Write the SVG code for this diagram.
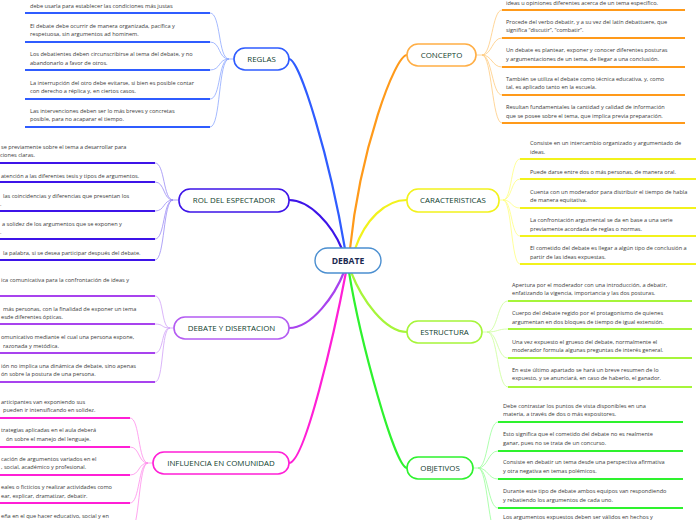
<svg xmlns="http://www.w3.org/2000/svg" width="696" height="520" viewBox="0 0 696 520">
<style>
.t{font-family:"Open Sans","Noto Sans",sans-serif;font-size:5.6px;fill:#3a3a3a}
.n{font-family:"Open Sans","Noto Sans",sans-serif;font-size:7.9px;fill:#0f3d2e;text-anchor:middle}
.box{fill:#fff;stroke-width:1.6}
.main{fill:none;stroke-width:2.2;stroke-linecap:round}
.sub{fill:none;stroke-width:0.8}
.bar{stroke-width:1.8}
</style>
<rect width="696" height="520" fill="#fff"/>
<g id="connectors">
  <path class="main" stroke="#2f5cff" d="M289,59 C300,59 330,160 345,249"/>
  <path class="main" stroke="#3d14e8" d="M289,200 C310,200 332,225 342,249"/>
  <path class="main" stroke="#ff9a1a" d="M407,55 C395,55 360,150 350,249"/>
  <path class="main" stroke="#f2f21c" d="M407,200 C385,200 365,220 355,249"/>
  <path class="main" stroke="#a843ee" d="M289,328 C312,328 335,295 344,272"/>
  <path class="main" stroke="#ff1fd6" d="M289,463 C305,463 335,330 346,272"/>
  <path class="main" stroke="#a6f53a" d="M407,332 C385,332 362,300 351,272"/>
  <path class="main" stroke="#2ef22e" d="M407,468 C395,468 360,340 349,272"/>
  <g stroke="#8ea8ff" class="sub">
    <path d="M229,59 H234"/>
    <path d="M210,13 C221,13 218,59 229,59"/>
    <path d="M210,42 C221,42 218,59 229,59"/>
    <path d="M210,70 C221,70 218,59 229,59"/>
    <path d="M210,99 C221,99 218,59 229,59"/>
    <path d="M210,127 C221,127 218,59 229,59"/>
  </g>
  <g stroke="#9b8cf5" class="sub">
    <path d="M173,200 H179"/>
    <path d="M155,163 C165,163 163,200 173,200"/>
    <path d="M155,182 C165,182 163,200 173,200"/>
    <path d="M155,211 C165,211 163,200 173,200"/>
    <path d="M155,239 C165,239 163,200 173,200"/>
    <path d="M155,260 C165,260 163,200 173,200"/>
  </g>
  <g stroke="#d0a2f7" class="sub">
    <path d="M170,328 H174"/>
    <path d="M155,296 C164,296 161,328 170,328"/>
    <path d="M155,324 C164,324 161,328 170,328"/>
    <path d="M155,353 C164,353 161,328 170,328"/>
    <path d="M155,382 C164,382 161,328 170,328"/>
  </g>
  <g stroke="#ff8deb" class="sub">
    <path d="M148,463 H153"/>
    <path d="M130,418 C140,418 138,463 148,463"/>
    <path d="M130,447 C140,447 138,463 148,463"/>
    <path d="M130,475 C140,475 138,463 148,463"/>
    <path d="M130,503 C140,503 138,463 148,463"/>
    <path d="M130,532 C140,532 138,463 148,463"/>
  </g>
  <g stroke="#ffcc80" class="sub">
    <path d="M476,55 H482"/>
    <path d="M482,55 C492,55 492,10 502,10"/>
    <path d="M482,55 C492,55 492,38 502,38"/>
    <path d="M482,55 C492,55 492,67 502,67"/>
    <path d="M482,55 C492,55 492,95 502,95"/>
    <path d="M482,55 C492,55 492,123 502,123"/>
  </g>
  <g stroke="#ffff80" class="sub">
    <path d="M499,200 H503"/>
    <path d="M503,200 C512,200 511,159 520,159"/>
    <path d="M503,200 C512,200 511,179 520,179"/>
    <path d="M503,200 C512,200 511,208 520,208"/>
    <path d="M503,200 C512,200 511,236 520,236"/>
    <path d="M503,200 C512,200 511,264 520,264"/>
  </g>
  <g stroke="#ccff99" class="sub">
    <path d="M482,332 H487"/>
    <path d="M487,332 C498,332 497,301 508,301"/>
    <path d="M487,332 C498,332 497,329 508,329"/>
    <path d="M487,332 C498,332 497,358 508,358"/>
    <path d="M487,332 C498,332 497,387 508,387"/>
  </g>
  <g stroke="#99ff99" class="sub">
    <path d="M473,468 H478"/>
    <path d="M478,468 C488,468 488,422 498,422"/>
    <path d="M478,468 C488,468 488,451 498,451"/>
    <path d="M478,468 C488,468 488,479 498,479"/>
    <path d="M478,468 C488,468 488,508 498,508"/>
    <path d="M478,468 C488,468 488,536 498,536"/>
  </g>
</g>

<g id="debate">
  <rect x="315" y="248" width="66" height="25" rx="12.5" fill="#fff" stroke="#4b8fd0" stroke-width="1.4"/>
  <text x="348" y="263.8" text-anchor="middle" font-family="Open Sans, Noto Sans, sans-serif" font-size="8.6" font-weight="bold" fill="#1c2a52">DEBATE</text>
</g>

<g id="reglas">
  <rect class="box" x="234" y="48" width="55" height="22" rx="11" stroke="#2f5cff"/>
  <text class="n" x="261.5" y="61.9">REGLAS</text>
</g>
<g id="rol-espectador">
  <rect class="box" x="179" y="189" width="110" height="23" rx="11" stroke="#3d14e8"/>
  <text class="n" x="234" y="203.3">ROL DEL ESPECTADOR</text>
</g>
<g id="debate-disertacion">
  <rect class="box" x="174" y="317" width="115" height="22" rx="11" stroke="#b45cf2"/>
  <text class="n" x="231.5" y="330.9">DEBATE Y DISERTACION</text>
</g>
<g id="influencia">
  <rect class="box" x="153" y="452" width="136" height="22" rx="11" stroke="#ff1fd6"/>
  <text class="n" x="221" y="465.9">INFLUENCIA EN COMUNIDAD</text>
</g>
<g id="concepto">
  <rect class="box" x="407" y="44" width="69" height="22" rx="11" stroke="#ffae45"/>
  <text class="n" x="441.5" y="57.9">CONCEPTO</text>
</g>
<g id="caracteristicas">
  <rect class="box" x="407" y="189" width="92" height="23" rx="11" stroke="#f2f21c"/>
  <text class="n" x="453" y="203.3">CARACTERISTICAS</text>
</g>
<g id="estructura">
  <rect class="box" x="407" y="321" width="75" height="22" rx="11" stroke="#a6f53a"/>
  <text class="n" x="444.5" y="334.9">ESTRUCTURA</text>
</g>
<g id="objetivos">
  <rect class="box" x="407" y="457" width="66" height="22" rx="11" stroke="#2ef22e"/>
  <text class="n" x="440" y="470.9">OBJETIVOS</text>
</g>

<g id="reglas-1"><text class="t" x="30" y="7.5">debe usarla para establecer las condiciones más justas</text><line class="bar" x1="25" y1="13" x2="210" y2="13" stroke="#2f5cff"/></g>
<g id="reglas-2"><text class="t" x="30" y="27.5">El debate debe ocurrir de manera organizada, pacífica y</text><text class="t" x="30" y="35.8">respetuosa, sin argumentos ad hominem.</text><line class="bar" x1="25" y1="42" x2="210" y2="42" stroke="#2f5cff"/></g>
<g id="reglas-3"><text class="t" x="30" y="55.8">Los debatientes deben circunscribirse al tema del debate, y no</text><text class="t" x="30" y="64.5">abandonarlo a favor de otros.</text><line class="bar" x1="25" y1="70" x2="210" y2="70" stroke="#2f5cff"/></g>
<g id="reglas-4"><text class="t" x="30" y="84.5">La interrupción del otro debe evitarse, si bien es posible contar</text><text class="t" x="30" y="92.5">con derecho a réplica y, en ciertos casos.</text><line class="bar" x1="25" y1="99" x2="210" y2="99" stroke="#2f5cff"/></g>
<g id="reglas-5"><text class="t" x="30" y="112.8">Las intervenciones deben ser lo más breves y concretas</text><text class="t" x="30" y="121.1">posible, para no acaparar el tiempo.</text><line class="bar" x1="25" y1="127" x2="210" y2="127" stroke="#2f5cff"/></g>

<g id="rol-1"><text class="t" x="1" y="148.5">se previamente sobre el tema a desarrollar para</text><text class="t" x="0" y="157">ciones claras.</text><line class="bar" x1="0" y1="163" x2="155" y2="163" stroke="#3d14e8"/></g>
<g id="rol-2"><text class="t" x="1" y="177.8">atención a las diferentes tesis y tipos de argumentos.</text><line class="bar" x1="0" y1="182" x2="155" y2="182" stroke="#3d14e8"/></g>
<g id="rol-3"><text class="t" x="3" y="197.8">las coincidencias y diferencias que presentan los</text><text class="t" x="0" y="205.8">.</text><line class="bar" x1="0" y1="211" x2="155" y2="211" stroke="#3d14e8"/></g>
<g id="rol-4"><text class="t" x="2" y="225.8">a solidez de los argumentos que se exponen y</text><text class="t" x="0" y="233.8">.</text><line class="bar" x1="0" y1="239" x2="155" y2="239" stroke="#3d14e8"/></g>
<g id="rol-5"><text class="t" x="3" y="254.8">la palabra, si se desea participar después del debate.</text><line class="bar" x1="0" y1="260" x2="155" y2="260" stroke="#3d14e8"/></g>

<g id="dyd-1"><text class="t" x="1" y="281.8">ica comunicativa para la confrontación de ideas y</text><line class="bar" x1="0" y1="296" x2="155" y2="296" stroke="#a843ee"/></g>
<g id="dyd-2"><text class="t" x="3" y="310.8">más personas, con la finalidad de exponer un tema</text><text class="t" x="1" y="318.8">esde diferentes ópticas.</text><line class="bar" x1="0" y1="324" x2="155" y2="324" stroke="#a843ee"/></g>
<g id="dyd-3"><text class="t" x="1" y="338.8">omunicativo mediante el cual una persona expone,</text><text class="t" x="3" y="347.8">razonada y metódica.</text><line class="bar" x1="0" y1="353" x2="155" y2="353" stroke="#a843ee"/></g>
<g id="dyd-4"><text class="t" x="1" y="367.8">ión no implica una dinámica de debate, sino apenas</text><text class="t" x="1" y="375.8">ón sobre la postura de una persona.</text><line class="bar" x1="0" y1="382" x2="155" y2="382" stroke="#a843ee"/></g>

<g id="inf-1"><text class="t" x="1" y="403.8">articipantes van exponiendo sus</text><text class="t" x="3" y="411.8">pueden ir intensificando en solidez.</text><line class="bar" x1="0" y1="418" x2="130" y2="418" stroke="#ff1fd6"/></g>
<g id="inf-2"><text class="t" x="1" y="431.8">trategias aplicadas en el aula deberá</text><text class="t" x="6" y="440.8">ón sobre el manejo del lenguaje.</text><line class="bar" x1="0" y1="447" x2="130" y2="447" stroke="#ff1fd6"/></g>
<g id="inf-3"><text class="t" x="1" y="460.8">cación de argumentos variados en el</text><text class="t" x="1" y="468.8">, social, académico y profesional.</text><line class="bar" x1="0" y1="475" x2="130" y2="475" stroke="#ff1fd6"/></g>
<g id="inf-4"><text class="t" x="1" y="488.8">eales o ficticios y realizar actividades como</text><text class="t" x="1" y="497.8">ear, explicar, dramatizar, debatir.</text><line class="bar" x1="0" y1="503" x2="130" y2="503" stroke="#ff1fd6"/></g>
<g id="inf-5"><text class="t" x="1" y="517.6">eña en el que hacer educativo, social y en</text></g>

<g id="concepto-1"><text class="t" x="506" y="4.8">ideas u opiniones diferentes acerca de un tema específico.</text><line class="bar" x1="502" y1="10" x2="685" y2="10" stroke="#ff9a1a"/></g>
<g id="concepto-2"><text class="t" x="506" y="23.8">Procede del verbo debatir, y a su vez del latín debattuere, que</text><text class="t" x="506" y="31.8">significa “discutir”, “combatir”.</text><line class="bar" x1="502" y1="38" x2="685" y2="38" stroke="#ff9a1a"/></g>
<g id="concepto-3"><text class="t" x="506" y="51.8">Un debate es plantear, exponer y conocer diferentes posturas</text><text class="t" x="506" y="60.8">y argumentaciones de un tema, de llegar a una conclusión.</text><line class="bar" x1="502" y1="67" x2="685" y2="67" stroke="#ff9a1a"/></g>
<g id="concepto-4"><text class="t" x="506" y="80.8">También se utiliza el debate como técnica educativa, y, como</text><text class="t" x="506" y="88.8">tal, es aplicado tanto en la escuela.</text><line class="bar" x1="502" y1="95" x2="685" y2="95" stroke="#ff9a1a"/></g>
<g id="concepto-5"><text class="t" x="506" y="108.8">Resultan fundamentales la cantidad y calidad de información</text><text class="t" x="506" y="117.8">que se posee sobre el tema, que implica previa preparación.</text><line class="bar" x1="502" y1="123" x2="685" y2="123" stroke="#ff9a1a"/></g>

<g id="car-1"><text class="t" x="530" y="144.8">Consiste en un intercambio organizado y argumentado de</text><text class="t" x="530" y="153.8">ideas.</text><line class="bar" x1="520" y1="159" x2="696" y2="159" stroke="#f2f21c"/></g>
<g id="car-2"><text class="t" x="530" y="173.8">Puede darse entre dos o más personas, de manera oral.</text><line class="bar" x1="520" y1="179" x2="696" y2="179" stroke="#f2f21c"/></g>
<g id="car-3"><text class="t" x="530" y="193.8">Cuenta con un moderador para distribuir el tiempo de habla</text><text class="t" x="530" y="201.8">de manera equitativa.</text><line class="bar" x1="520" y1="208" x2="696" y2="208" stroke="#f2f21c"/></g>
<g id="car-4"><text class="t" x="530" y="221.8">La confrontación argumental se da en base a una serie</text><text class="t" x="530" y="230.8">previamente acordada de reglas o normas.</text><line class="bar" x1="520" y1="236" x2="696" y2="236" stroke="#f2f21c"/></g>
<g id="car-5"><text class="t" x="530" y="249.8">El cometido del debate es llegar a algún tipo de conclusión a</text><text class="t" x="530" y="258.8">partir de las ideas expuestas.</text><line class="bar" x1="520" y1="264" x2="696" y2="264" stroke="#f2f21c"/></g>

<g id="est-1"><text class="t" x="512" y="286.8">Apertura por el moderador con una introducción, a debatir,</text><text class="t" x="512" y="294.8">enfatizando la vigencia, importancia y las dos posturas.</text><line class="bar" x1="508" y1="301" x2="692" y2="301" stroke="#a6f53a"/></g>
<g id="est-2"><text class="t" x="512" y="314.8">Cuerpo del debate regido por el protagonismo de quienes</text><text class="t" x="512" y="323.8">argumentan en dos bloques de tiempo de igual extensión.</text><line class="bar" x1="508" y1="329" x2="692" y2="329" stroke="#a6f53a"/></g>
<g id="est-3"><text class="t" x="512" y="343.8">Una vez expuesto el grueso del debate, normalmente el</text><text class="t" x="512" y="351.8">moderador formula algunas preguntas de interés general.</text><line class="bar" x1="508" y1="358" x2="692" y2="358" stroke="#a6f53a"/></g>
<g id="est-4"><text class="t" x="512" y="371.8">En este último apartado se hará un breve resumen de lo</text><text class="t" x="512" y="379.8">expuesto, y se anunciará, en caso de haberlo, el ganador.</text><line class="bar" x1="508" y1="387" x2="692" y2="387" stroke="#a6f53a"/></g>

<g id="obj-1"><text class="t" x="503" y="407.8">Debe contrastar los puntos de vista disponibles en una</text><text class="t" x="503" y="415.8">materia, a través de dos o más expositores.</text><line class="bar" x1="498" y1="422" x2="683" y2="422" stroke="#2ef22e"/></g>
<g id="obj-2"><text class="t" x="503" y="435.8">Esto significa que el cometido del debate no es realmente</text><text class="t" x="503" y="444.8">ganar, pues no se trata de un concurso.</text><line class="bar" x1="498" y1="451" x2="683" y2="451" stroke="#2ef22e"/></g>
<g id="obj-3"><text class="t" x="503" y="463.8">Consiste en debatir un tema desde una perspectiva afirmativa</text><text class="t" x="503" y="472.8">y otra negativa en temas polémicos.</text><line class="bar" x1="498" y1="479" x2="683" y2="479" stroke="#2ef22e"/></g>
<g id="obj-4"><text class="t" x="503" y="492.8">Durante este tipo de debate ambos equipos van respondiendo</text><text class="t" x="503" y="501.8">y rebatiendo los argumentos de cada uno.</text><line class="bar" x1="498" y1="508" x2="683" y2="508" stroke="#2ef22e"/></g>
<g id="obj-5"><text class="t" x="503" y="519.3">Los argumentos expuestos deben ser válidos en hechos y</text></g>
</svg>
